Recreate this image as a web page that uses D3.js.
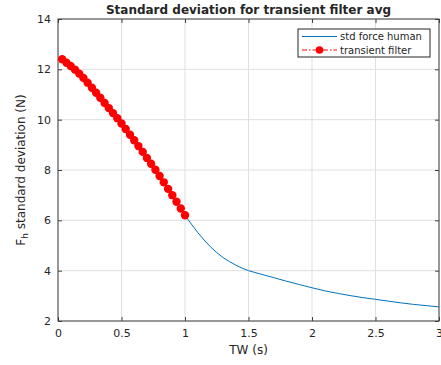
<!DOCTYPE html>
<html>
<head>
<meta charset="utf-8">
<script src="https://cdn.jsdelivr.net/npm/d3@7"></script>
<style>
body { margin: 0; background: #fff; }
text { font-family: "DejaVu Sans", sans-serif; fill: #262626; }
</style>
</head>
<body>
<div id="chart"></div>
<script>
//////////////////////////////////////////////////////////////////////////////
// Data

var filterX = [0.033, 0.067, 0.1, 0.133, 0.167, 0.2, 0.233, 0.267, 0.3, 0.333,
               0.367, 0.4, 0.433, 0.467, 0.5, 0.533, 0.567, 0.6, 0.633, 0.667,
               0.7, 0.733, 0.767, 0.8, 0.833, 0.867, 0.9, 0.933, 0.967, 1.0];
var filterY = [12.40, 12.26, 12.13, 11.99, 11.83, 11.66, 11.47, 11.27, 11.07, 10.87,
               10.66, 10.46, 10.26, 10.06, 9.85, 9.63, 9.40, 9.18, 8.95, 8.72,
               8.48, 8.25, 8.01, 7.76, 7.51, 7.25, 7.00, 6.74, 6.47, 6.20];

var humanX = [1.0, 1.05, 1.1, 1.15, 1.2, 1.25, 1.3, 1.35, 1.4, 1.45, 1.5,
              1.6, 1.7, 1.8, 1.9, 2.0, 2.1, 2.2, 2.3, 2.4, 2.5,
              2.6, 2.7, 2.8, 2.9, 3.0];
var humanY = [6.2, 5.85, 5.52, 5.22, 4.95, 4.72, 4.52, 4.36, 4.22, 4.10, 4.0,
              3.86, 3.72, 3.58, 3.45, 3.32, 3.20, 3.10, 3.01, 2.93, 2.86,
              2.79, 2.72, 2.66, 2.61, 2.56];

var xTicks = [0, 0.5, 1, 1.5, 2, 2.5, 3];
var yTicks = [2, 4, 6, 8, 10, 12, 14];
var legendNames = ["std force human", "transient filter"];

//////////////////////////////////////////////////////////////////////////////
// Setup

var W = 441, H = 365;
var mLeft = 58, mRight = 439, mTop = 19, mBottom = 321;

var xScale = d3.scaleLinear().domain([0, 3]).range([mLeft, mRight]);
var yScale = d3.scaleLinear().domain([2, 14]).range([mBottom, mTop]);

var svg = d3.select("#chart").append("svg")
    .attr("width", W)
    .attr("height", H);

// grid
svg.append("g")
    .selectAll("line")
    .data(xTicks)
    .enter().append("line")
    .attr("x1", function(d) { return xScale(d); })
    .attr("x2", function(d) { return xScale(d); })
    .attr("y1", mTop).attr("y2", mBottom)
    .attr("stroke", "#dfdfdf").attr("stroke-width", 1);

svg.append("g")
    .selectAll("line")
    .data(yTicks)
    .enter().append("line")
    .attr("y1", function(d) { return yScale(d); })
    .attr("y2", function(d) { return yScale(d); })
    .attr("x1", mLeft).attr("x2", mRight)
    .attr("stroke", "#dfdfdf").attr("stroke-width", 1);

// axes (inward ticks, box)
function styleAxis(g) {
    g.select(".domain").remove();
    g.selectAll(".tick line").attr("stroke", "#404040");
    g.selectAll(".tick text").attr("font-size", 11).attr("fill", "#262626");
}

svg.append("g")
    .attr("transform", "translate(0," + mBottom + ")")
    .call(d3.axisBottom(xScale).tickValues(xTicks).tickSize(-4).tickPadding(8)
          .tickFormat(d3.format("")))
    .call(styleAxis);

svg.append("g")
    .attr("transform", "translate(0," + mTop + ")")
    .call(d3.axisTop(xScale).tickValues(xTicks).tickSize(-4).tickFormat(""))
    .call(styleAxis);

svg.append("g")
    .attr("transform", "translate(" + mLeft + ",0)")
    .call(d3.axisLeft(yScale).tickValues(yTicks).tickSize(-4).tickPadding(7))
    .call(styleAxis);

svg.append("g")
    .attr("transform", "translate(" + mRight + ",0)")
    .call(d3.axisRight(yScale).tickValues(yTicks).tickSize(-4).tickFormat(""))
    .call(styleAxis);

svg.append("rect")
    .attr("x", mLeft).attr("y", mTop)
    .attr("width", mRight - mLeft).attr("height", mBottom - mTop)
    .attr("fill", "none").attr("stroke", "#404040").attr("stroke-width", 1);

// lines
var line = d3.line()
    .x(function(d) { return xScale(d[0]); })
    .y(function(d) { return yScale(d[1]); });

var humanData = d3.zip(humanX, humanY);
var filterData = d3.zip(filterX, filterY);

svg.append("path")
    .datum(humanData)
    .attr("d", line)
    .attr("fill", "none")
    .attr("stroke", "#0072BD")
    .attr("stroke-width", 1);

svg.append("path")
    .datum(filterData)
    .attr("d", line)
    .attr("fill", "none")
    .attr("stroke", "#ff0000")
    .attr("stroke-dasharray", "6,3,1.5,3")
    .attr("stroke-width", 1);

svg.append("g")
    .selectAll("circle")
    .data(filterData)
    .enter().append("circle")
    .attr("cx", function(d) { return xScale(d[0]); })
    .attr("cy", function(d) { return yScale(d[1]); })
    .attr("r", 4.2)
    .attr("fill", "#ff0000");

// title and labels
svg.append("text")
    .attr("x", (mLeft + mRight) / 2).attr("y", 14)
    .attr("text-anchor", "middle")
    .attr("font-size", 12).attr("font-weight", "bold")
    .attr("fill", "#000")
    .text("Standard deviation for transient filter avg");

svg.append("text")
    .attr("x", (mLeft + mRight) / 2).attr("y", 354)
    .attr("text-anchor", "middle")
    .attr("font-size", 12)
    .text("TW (s)");

var yl = svg.append("text")
    .attr("transform", "translate(25," + ((mTop + mBottom) / 2) + ") rotate(-90)")
    .attr("text-anchor", "middle")
    .attr("font-size", 12);
yl.append("tspan").text("F");
yl.append("tspan").attr("font-size", 9).attr("dy", 3).text("h");
yl.append("tspan").attr("dy", -3).text(" standard deviation (N)");

// legend
var lg = svg.append("g");
lg.append("rect")
    .attr("x", 298).attr("y", 29)
    .attr("width", 132).attr("height", 28)
    .attr("fill", "#fff").attr("stroke", "#262626").attr("stroke-width", 1);

var rows = [36.5, 50];
lg.append("line")
    .attr("x1", 302).attr("x2", 337).attr("y1", rows[0]).attr("y2", rows[0])
    .attr("stroke", "#0072BD").attr("stroke-width", 1);
lg.append("line")
    .attr("x1", 302).attr("x2", 337).attr("y1", rows[1]).attr("y2", rows[1])
    .attr("stroke", "#ff0000").attr("stroke-dasharray", "5,2,1.5,2").attr("stroke-width", 1);
lg.append("circle")
    .attr("cx", 319.5).attr("cy", rows[1]).attr("r", 3.8).attr("fill", "#ff0000");

lg.selectAll("text.leg")
    .data(legendNames)
    .enter().append("text")
    .attr("class", "leg")
    .attr("x", 340)
    .attr("y", function(d, i) { return rows[i] + 3.5; })
    .attr("font-size", 10)
    .attr("fill", "#000")
    .text(function(d) { return d; });
</script>
</body>
</html>
